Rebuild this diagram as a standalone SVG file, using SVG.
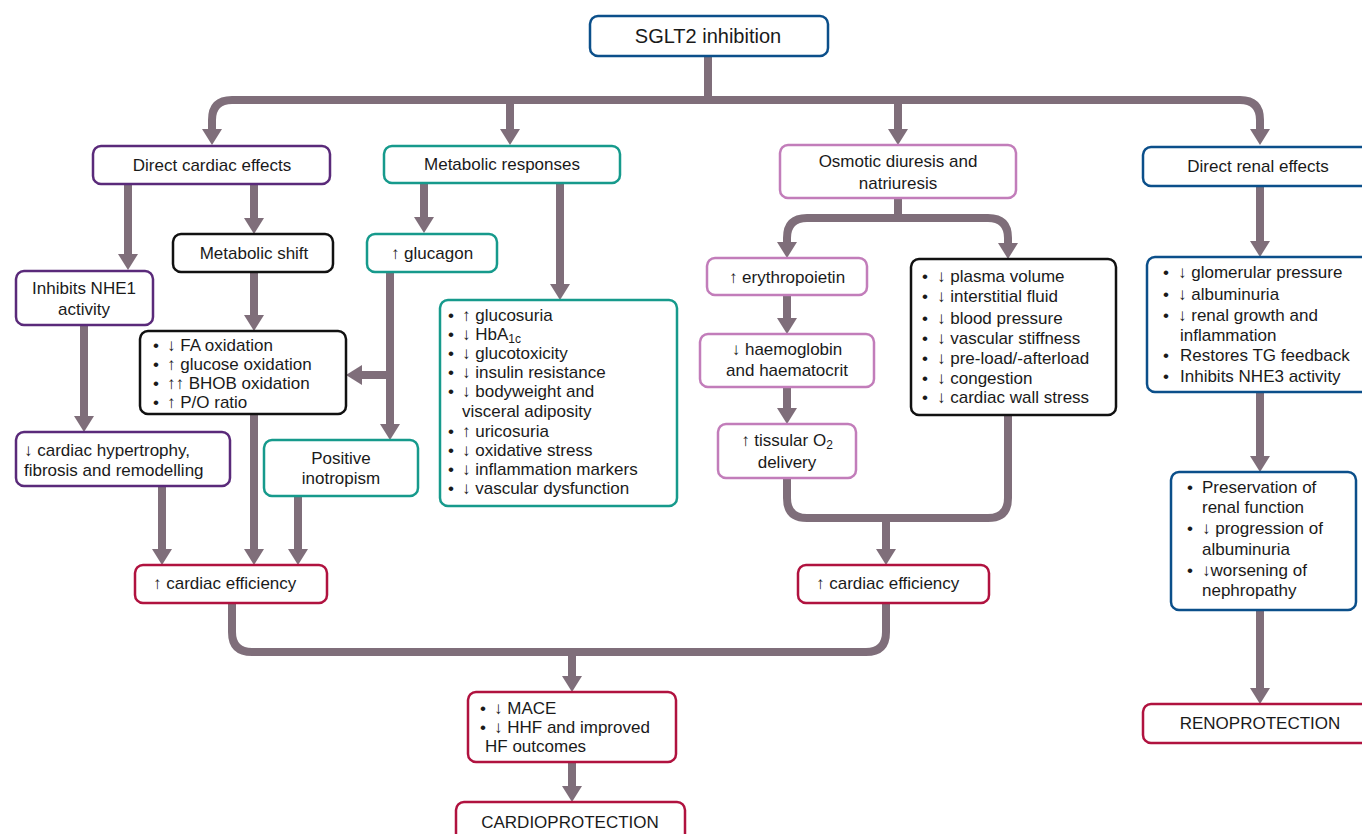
<svg xmlns="http://www.w3.org/2000/svg" width="1362" height="834" viewBox="0 0 1362 834">
<style>
.bx{fill:#fff;stroke-width:2.5}
.blue{stroke:#0b4f8a}.pur{stroke:#5a2a7a}.teal{stroke:#169a8c}.pink{stroke:#c27dba}.blk{stroke:#111}.red{stroke:#b0123f}
text{font-family:"Liberation Sans",Arial,sans-serif;font-size:17px;fill:#1a1a1a}
.c{text-anchor:middle}
.sub{font-size:12px}
.con path{fill:none;stroke:#7f6e7a;stroke-width:8}
.con path.a{marker-end:url(#ah)}
</style>
<defs>
<marker id="ah" markerUnits="userSpaceOnUse" markerWidth="16" markerHeight="20" viewBox="0 0 16 20" refX="0" refY="10" orient="auto">
<path d="M0,0 L16,10 L0,20 z" fill="#7f6e7a"/>
</marker>
</defs>
<rect width="1362" height="834" fill="#fff"/>
<g class="con">
<path d="M708,56 V100"/>
<path class="a" d="M712,100 H232 Q212,100 212,120 V129"/>
<path class="a" d="M704,100 H1240 Q1260,100 1260,120 V129"/>
<path class="a" d="M510,100 V129"/>
<path class="a" d="M898,100 V129"/>
<path class="a" d="M128,184 V254"/>
<path class="a" d="M254,184 V218"/>
<path class="a" d="M424,183 V217"/>
<path class="a" d="M560,183 V284"/>
<path class="a" d="M254,272 V315"/>
<path class="a" d="M390,272 V424"/>
<path class="a" d="M390,375 H362"/>
<path class="a" d="M84,325 V416"/>
<path class="a" d="M162,486 V549"/>
<path class="a" d="M254,414 V549"/>
<path class="a" d="M298,496 V549"/>
<path d="M232,603 V632 Q232,652 252,652 H866 Q886,652 886,632 V603"/>
<path class="a" d="M572,652 V676"/>
<path class="a" d="M572,762 V786"/>
<path d="M898,198 V218"/>
<path class="a" d="M902,218 H807 Q787,218 787,238 V242"/>
<path class="a" d="M894,218 H988 Q1008,218 1008,238 V243"/>
<path class="a" d="M787,295 V318"/>
<path class="a" d="M787,387 V408"/>
<path d="M787,478 V498 Q787,518 807,518 H988 Q1008,518 1008,498 V415"/>
<path class="a" d="M886,518 V549"/>
<path class="a" d="M1260,186 V241"/>
<path class="a" d="M1260,392 V456"/>
<path class="a" d="M1260,610 V688"/>
</g>
<g id="sglt2"><rect class="bx blue" x="590" y="16" width="238" height="40" rx="8"/><text class="c" x="708" y="43" style="font-size:20px">SGLT2 inhibition</text></g>
<g id="direct-cardiac"><rect class="bx pur" x="93" y="146" width="237" height="38" rx="8"/><text class="c" x="212" y="171">Direct cardiac effects</text></g>
<g id="metabolic"><rect class="bx teal" x="384" y="146" width="236" height="37" rx="8"/><text class="c" x="502" y="170">Metabolic responses</text></g>
<g id="osmotic"><rect class="bx pink" x="780" y="145" width="236" height="53" rx="8"/><text class="c" x="898" y="167">Osmotic diuresis and</text><text class="c" x="898" y="189">natriuresis</text></g>
<g id="direct-renal"><rect class="bx blue" x="1143" y="147" width="232" height="39" rx="8"/><text class="c" x="1258" y="172">Direct renal effects</text></g>
<g id="metabolic-shift"><rect class="bx blk" x="173" y="234" width="160" height="38" rx="8"/><text class="c" x="254" y="259">Metabolic shift</text></g>
<g id="glucagon"><rect class="bx teal" x="367" y="234" width="130" height="38" rx="8"/><text class="c" x="432" y="259">↑ glucagon</text></g>
<g id="nhe1"><rect class="bx pur" x="16" y="271" width="137" height="54" rx="8"/><text class="c" x="84" y="294">Inhibits NHE1</text><text class="c" x="84" y="315">activity</text></g>
<g id="oxidation"><rect class="bx blk" x="140" y="331" width="206" height="83" rx="8"/>
<text x="153" y="351">•<tspan x="167">↓ FA oxidation</tspan></text>
<text x="153" y="370">•<tspan x="167">↑ glucose oxidation</tspan></text>
<text x="153" y="389">•<tspan x="167">↑↑ BHOB oxidation</tspan></text>
<text x="153" y="408">•<tspan x="167">↑ P/O ratio</tspan></text></g>
<g id="hypertrophy"><rect class="bx pur" x="16" y="432" width="214" height="54" rx="8"/><text x="24" y="456">↓ cardiac hypertrophy,</text><text x="24" y="476">fibrosis and remodelling</text></g>
<g id="inotropism"><rect class="bx teal" x="264" y="440" width="154" height="56" rx="8"/><text class="c" x="341" y="464">Positive</text><text class="c" x="341" y="484">inotropism</text></g>
<g id="cardiac-eff-left"><rect class="bx red" x="135" y="565" width="192" height="38" rx="8"/><text x="153" y="589">↑ cardiac efficiency</text></g>
<g id="metabolic-list"><rect class="bx teal" x="440" y="300" width="237" height="206" rx="8"/>
<text x="448" y="321">•<tspan x="462">↑ glucosuria</tspan></text>
<text x="448" y="340">•<tspan x="462">↓ HbA</tspan><tspan class="sub" dy="3">1c</tspan></text>
<text x="448" y="359">•<tspan x="462">↓ glucotoxicity</tspan></text>
<text x="448" y="378">•<tspan x="462">↓ insulin resistance</tspan></text>
<text x="448" y="397">•<tspan x="462">↓ bodyweight and</tspan></text>
<text x="462" y="417">visceral adiposity</text>
<text x="448" y="437">•<tspan x="462">↑ uricosuria</tspan></text>
<text x="448" y="456">•<tspan x="462">↓ oxidative stress</tspan></text>
<text x="448" y="475">•<tspan x="462">↓ inflammation markers</tspan></text>
<text x="448" y="494">•<tspan x="462">↓ vascular dysfunction</tspan></text></g>
<g id="mace"><rect class="bx red" x="468" y="692" width="208" height="70" rx="8"/>
<text x="480" y="714">•<tspan x="494">↓ MACE</tspan></text>
<text x="480" y="733">•<tspan x="494">↓ HHF and improved</tspan></text>
<text x="485" y="752">HF outcomes</text></g>
<g id="cardioprotection"><rect class="bx red" x="456" y="802" width="229" height="45" rx="8"/><text class="c" x="570" y="828">CARDIOPROTECTION</text></g>
<g id="erythropoietin"><rect class="bx pink" x="707" y="258" width="160" height="37" rx="8"/><text class="c" x="787" y="283">↑ erythropoietin</text></g>
<g id="haemoglobin"><rect class="bx pink" x="700" y="334" width="174" height="53" rx="8"/><text class="c" x="787" y="355">↓ haemoglobin</text><text class="c" x="787" y="376">and haematocrit</text></g>
<g id="tissular"><rect class="bx pink" x="718" y="424" width="138" height="54" rx="8"/><text class="c" x="787" y="446">↑ tissular O<tspan class="sub" dy="3">2</tspan></text><text class="c" x="787" y="468">delivery</text></g>
<g id="volume-list"><rect class="bx blk" x="911" y="259" width="205" height="156" rx="8"/>
<text x="922" y="282">•<tspan x="937">↓ plasma volume</tspan></text>
<text x="922" y="302">•<tspan x="937">↓ interstitial fluid</tspan></text>
<text x="922" y="324">•<tspan x="937">↓ blood pressure</tspan></text>
<text x="922" y="344">•<tspan x="937">↓ vascular stiffness</tspan></text>
<text x="922" y="364">•<tspan x="937">↓ pre-load/-afterload</tspan></text>
<text x="922" y="384">•<tspan x="937">↓ congestion</tspan></text>
<text x="922" y="403">•<tspan x="937">↓ cardiac wall stress</tspan></text></g>
<g id="cardiac-eff-right"><rect class="bx red" x="798" y="565" width="191" height="38" rx="8"/><text x="816" y="589">↑ cardiac efficiency</text></g>
<g id="renal-list"><rect class="bx blue" x="1147" y="257" width="228" height="135" rx="8"/>
<text x="1163" y="278">•<tspan x="1178">↓ glomerular pressure</tspan></text>
<text x="1163" y="300">•<tspan x="1178">↓ albuminuria</tspan></text>
<text x="1163" y="321">•<tspan x="1178">↓ renal growth and</tspan></text>
<text x="1180" y="341">inflammation</text>
<text x="1163" y="361">•<tspan x="1180">Restores TG feedback</tspan></text>
<text x="1163" y="382">•<tspan x="1180">Inhibits NHE3 activity</tspan></text></g>
<g id="renal-outcomes"><rect class="bx blue" x="1171" y="472" width="185" height="138" rx="8"/>
<text x="1187" y="493">•<tspan x="1202">Preservation of</tspan></text>
<text x="1202" y="513">renal function</text>
<text x="1187" y="534">•<tspan x="1202">↓ progression of</tspan></text>
<text x="1202" y="555">albuminuria</text>
<text x="1187" y="576">•<tspan x="1202">↓worsening of</tspan></text>
<text x="1202" y="596">nephropathy</text></g>
<g id="renoprotection"><rect class="bx red" x="1143" y="704" width="232" height="39" rx="8"/><text class="c" x="1260" y="729">RENOPROTECTION</text></g>
</svg>
